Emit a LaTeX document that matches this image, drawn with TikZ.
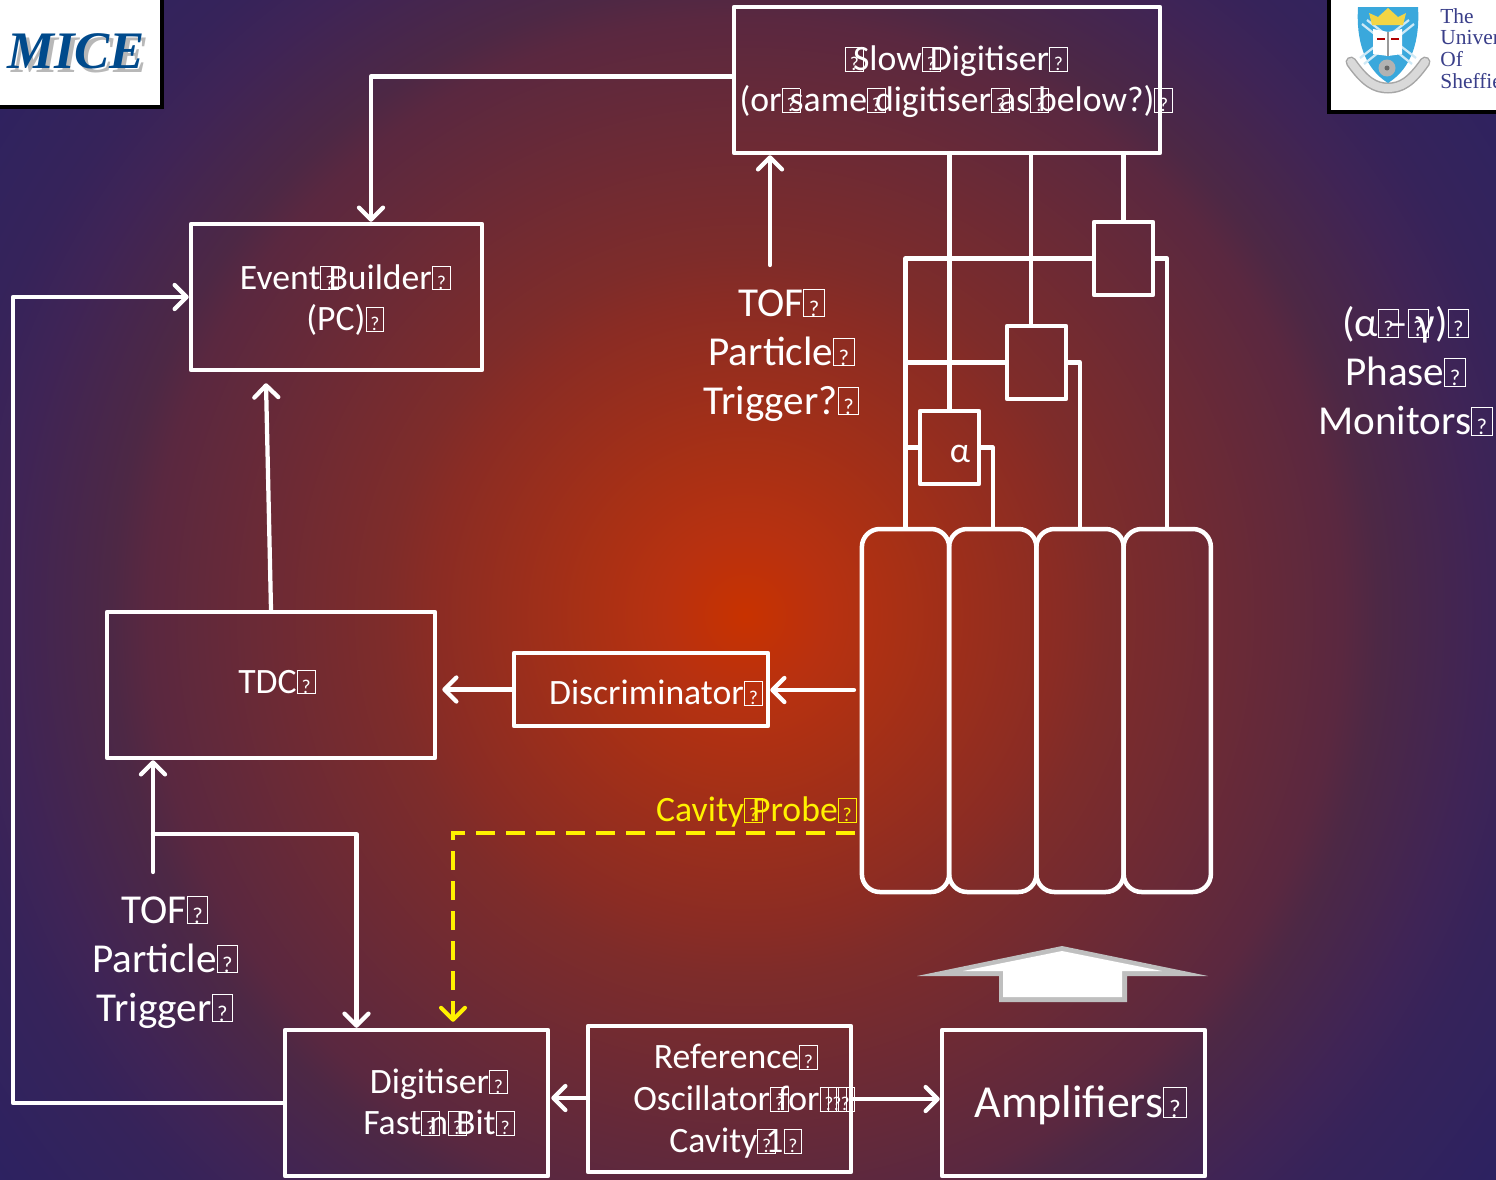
\documentclass[tikz,border=0pt]{standalone}
\usepackage{fontspec}
\setmainfont{Carlito}
\newfontfamily\logofont{Liberation Serif}
\usetikzlibrary{
  arrows.meta,
  positioning
}
\definecolor{glowA}{HTML}{C83200}
\definecolor{glowB}{HTML}{B83110}
\definecolor{glowC}{HTML}{A83015}
\definecolor{glowD}{HTML}{8A2C24}
\definecolor{glowE}{HTML}{7E2C2A}
\definecolor{glowF}{HTML}{5A2840}
\definecolor{glowG}{HTML}{4D2845}
\definecolor{glowH}{HTML}{3F2456}
\definecolor{glowI}{HTML}{36235A}
\definecolor{glowJ}{HTML}{2B2262}
\definecolor{miceBlue}{HTML}{004A8C}
\definecolor{shefBlue}{HTML}{3AA8DC}
\definecolor{shefText}{HTML}{3A3F8A}
\definecolor{shefGold}{HTML}{F2D545}
\definecolor{arrowGray}{HTML}{BFBFBF}
\pgfdeclareradialshading{bgglow}{\pgfpoint{0bp}{0bp}}{
  color(0bp)=(glowA); color(2.1bp)=(glowB); color(4.15bp)=(glowC);
  color(8.15bp)=(glowD); color(9.4bp)=(glowE); color(15.55bp)=(glowF);
  color(16.5bp)=(glowG); color(19.25bp)=(glowH); color(20.8bp)=(glowI);
  color(25bp)=(glowJ); color(50bp)=(glowJ)
}
\newcommand{\tofu}{\makebox[0.226em][l]{\fboxsep=0pt\fboxrule=0.17mm\fbox{\rule{0pt}{0.64em}\makebox[0.48em]{\scalebox{0.55}{?}}}}}
\tikzset{
  wire/.style={line width=0.85mm, white, line join=round},
  flow/.style={wire, line cap=round, -{Straight Barb[length=2.4mm, width=4.8mm, round]}},
  probe/.style={line width=0.8mm, yellow, dash pattern=on 3.8mm off 2.2mm, -{Straight Barb[length=2.4mm, width=4.8mm, round]}},
  isbox/.style={draw=white, line width=0.9mm, line join=round, inner sep=0pt},
  smallbox/.style={isbox, minimum width=11.8mm, minimum height=14.6mm},
  cell/.style={isbox, rounded corners=3.6mm, minimum width=17.45mm, minimum height=72.6mm},
  tag/.style={font=\fontsize{20.3}{23.5}\selectfont, text=white, align=center, inner sep=0pt},
  bigtag/.style={tag, font=\fontsize{23.4}{27.9}\selectfont},
  logobox/.style={fill=white, draw=black, line width=0.7mm}
}

\begin{document}
\begin{tikzpicture}[x=0.2mm, y=-0.2mm]
  \useasboundingbox (0,0) rectangle (1496,1179);
  \begin{scope}
    \clip (0,0) rectangle (1496,1179);
    \shade[shading=bgglow] (745,615) circle (192mm);
  \end{scope}

  \fill[logobox] (-5,-5) rectangle (162,107);
  \node[font=\logofont\bfseries\itshape\fontsize{30}{30}\selectfont, text=black!28, inner sep=0pt] (miceshadow) at (80,55) {MICE};
  \node[font=\logofont\bfseries\itshape\fontsize{30}{30}\selectfont, text=miceBlue, inner sep=0pt] (mice) at (76,51) {MICE};

  \fill[logobox] (1329,-5) rectangle (1505,112);
  \begin{scope}
    \clip (1331,0) rectangle (1496,110);
    \draw[line width=2.2mm, black!35, line cap=round] (1351,62) .. controls (1365,82) and (1375,88) .. (1388,88) .. controls (1401,88) and (1411,82) .. (1425,62);
    \draw[line width=1.6mm, white!85!black, line cap=round] (1351,62) .. controls (1365,82) and (1375,88) .. (1388,88) .. controls (1401,88) and (1411,82) .. (1425,62);
    \fill[shefBlue] (1358,7) -- (1418,7) .. controls (1420,40) and (1412,68) .. (1388,83) .. controls (1364,68) and (1356,40) .. (1358,7) -- cycle;
    \draw[line width=0.45mm, white!75!shefBlue] (1362,24) -- (1412,64) (1367,20) -- (1416,58) (1414,24) -- (1364,64) (1409,20) -- (1360,58);
    \fill[shefGold] (1372,25) -- (1369,13) -- (1378,17) -- (1388,8) -- (1398,17) -- (1406,13) -- (1403,25) -- cycle;
    \fill[white] (1373,29) -- (1388,32) -- (1402,29) -- (1402,54) -- (1388,56) -- (1373,54) -- cycle;
    \draw[line width=0.25mm, black!40] (1388,32) -- (1388,56);
    \draw[line width=0.35mm, red!70!black] (1377,39) -- (1385,39) (1391,39) -- (1399,39);
    \fill[black!30] (1387,68) circle (1.7mm);
    \fill[black!60] (1387,68) circle (0.5mm);
    \node[font=\logofont\fontsize{12.2}{12.3}\selectfont, text=shefText, align=left, inner sep=0pt, anchor=north west] (shef) at (1440,8) {The\\University\\Of\\Sheffield};
  \end{scope}

  \node[isbox, minimum width=85.2mm, minimum height=29.2mm] (slow) at (947,80) {};
  \node[isbox, minimum width=58.2mm, minimum height=29.2mm] (ev) at (336.5,297) {};
  \node[isbox, minimum width=65.6mm, minimum height=29.2mm] (tdc) at (271,685) {};
  \node[isbox, minimum width=50.8mm, minimum height=14.6mm] (disc) at (641,689.5) {};
  \node[isbox, minimum width=52.6mm, minimum height=29.2mm] (dig) at (416.5,1103) {};
  \node[isbox, minimum width=52.6mm, minimum height=29.2mm] (ref) at (719.5,1099) {};
  \node[isbox, minimum width=52.6mm, minimum height=29.2mm] (amp) at (1073.5,1103) {};

  \node[cell] (ca) at (905.5,710.5) {};
  \node[cell, right=-0.9mm of ca] (cb) {};
  \node[cell, right=-0.9mm of cb] (cc) {};
  \node[cell, right=-0.9mm of cc] (cd) {};
  \node[smallbox] (a) at (949.5,447.5) {};
  \node[smallbox] (b) at (1036.5,362.5) {};
  \node[smallbox] (c) at (1123.5,258.5) {};

  \node[tag] (slowtag) at (951,82) {\tofu Slow\tofu Digitiser\tofu\\(or\tofu same\tofu digitiser\tofu as\tofu below?)\tofu};
  \node[tag] (evtag) at (340,300) {Event\tofu Builder\tofu\\(PC)\tofu};
  \node[tag] (tdctag) at (271.5,682) {TDC\tofu};
  \node[tag] (disctag) at (650.5,693) {Discriminator\tofu};
  \node[tag] (digtag) at (433.5,1102) {Digitiser\tofu\\Fast\tofu n\tofu Bit\tofu};
  \node[tag, font=\fontsize{20.3}{23.9}\selectfont] (reftag) at (730.5,1101) {Reference\tofu\\\hspace*{3.2mm}Oscillator\tofu for\tofu\tofu\tofu\\Cavity\tofu 1\tofu};
  \node[tag, font=\fontsize{26.1}{30}\selectfont] (amptag) at (1074,1105) {Amplifiers\tofu};
  \node[tag] (atag) at (960,454) {α};
  \node[tag, text=yellow] (probetag) at (751,812) {Cavity\tofu Probe\tofu};
  \node[bigtag] (toftop) at (775.5,355) {TOF\tofu\\Particle\tofu\\Trigger?\tofu};
  \node[bigtag] (tofbot) at (159,962) {TOF\tofu\\Particle\tofu\\Trigger\tofu};
  \node[bigtag] (phase) at (1399.5,371) {(α\tofu–\tofu γ)\tofu\\Phase\tofu\\Monitors\tofu};

  \coordinate (rail) at (13,297);
  \coordinate (trigtop) at (770,265);
  \coordinate (trigbot) at (153,872);
  \coordinate (split) at (153,834);
  \coordinate (probefrom) at (855,833);
  \coordinate (discfrom) at (854,690);

  \draw[flow] ([yshift=0.7mm]slow.west) -| ([xshift=6.9mm]ev.north);
  \draw[flow] (dig.west) -| (rail) -- (ev.west);
  \draw[flow] (tdc.north) -- ([xshift=-14.1mm, yshift=-2.2mm]ev.south);
  \draw[flow] (trigtop) -- (trigtop |- slow.south);
  \draw[flow] (trigbot) -- (trigbot |- tdc.south);
  \draw[flow] (split) -| ([xshift=-12mm]dig.north);
  \draw[flow] (discfrom) -- (discfrom -| disc.east);
  \draw[flow] (disc.west) -- ([xshift=1mm]disc.west -| tdc.east);
  \draw[flow] ([yshift=0.2mm]ref.west) -- ([xshift=0.2mm, yshift=0.2mm]ref.west -| dig.east);
  \draw[flow] (ref.east) -- (ref.east -| amp.west);
  \draw[probe] (probefrom) -| ([xshift=7.3mm, yshift=1.2mm]dig.north);

  \draw[wire] (a.north |- slow.south) -- (a.north);
  \draw[wire] ([xshift=-1.1mm]b.north |- slow.south) -- ([xshift=-1.1mm]b.north);
  \draw[wire] (c.north |- slow.south) -- (c.north);
  \draw[wire] (c.west) -| (ca.north);
  \draw[wire] (c.east) -| (cd.north);
  \draw[wire] (b.west) -- (b.west -| ca.north);
  \draw[wire] (b.east) -| (cc.north);
  \draw[wire] (a.west) -- (a.west -| ca.north);
  \draw[wire] (a.east) -| (cb.north);

  \fill[arrowGray] (1062,946) -- (1208,976) -- (1127,976) -- (1127,1002) -- (999,1002) -- (999,976) -- (917,976) -- cycle;
  \fill[white] (1062,951) -- (1162,971) -- (1122,971) -- (1122,997) -- (1003,997) -- (1003,971) -- (963,971) -- cycle;
\end{tikzpicture}
\end{document}
